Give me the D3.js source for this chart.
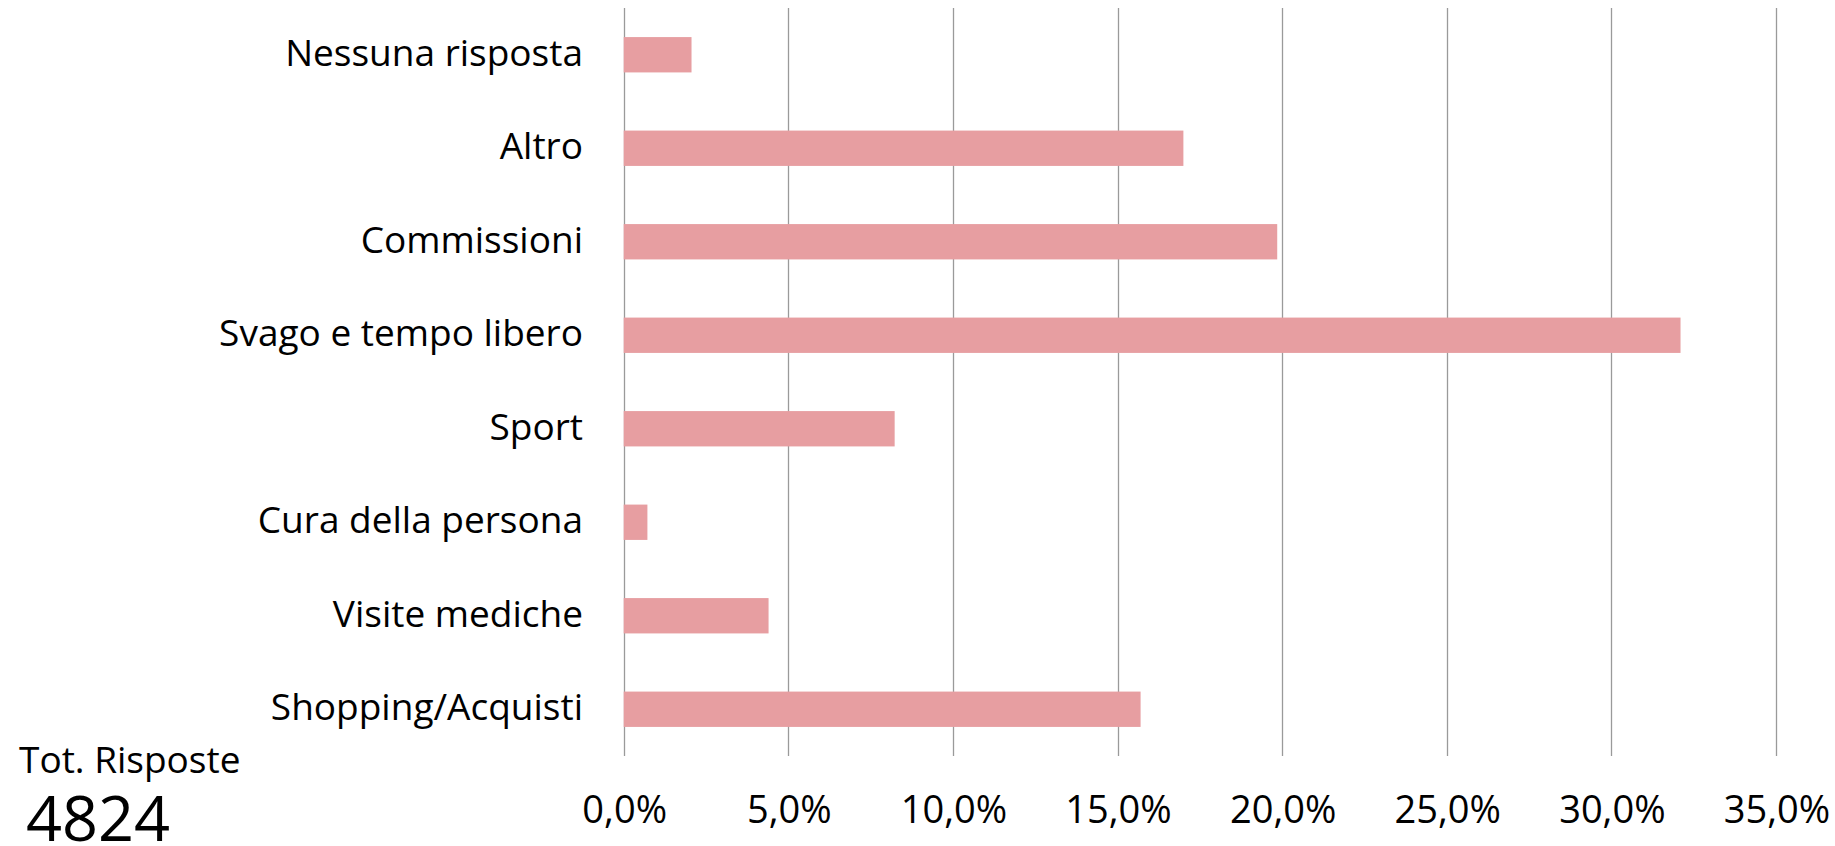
<!DOCTYPE html>
<html lang="it">
<head>
    <meta charset="UTF-8">
    <title>Tot. Risposte</title>
    <script src="https://d3js.org/d3.v7.min.js"></script>
    <style>
        * { margin: 0; padding: 0; box-sizing: border-box; }
        body { background: #fff; font-family: "Open Sans", sans-serif; }
        svg text { fill: #000; }
        .grid line { stroke: #9a9a9a; stroke-width: 1.3px; }
        .bar { fill: #e79ea1; }
    </style>
</head>
<body>
    <svg id="chart"></svg>
    <script>
        // Dati (top to bottom)
        const categories = ['Nessuna risposta', 'Altro', 'Commissioni', 'Svago e tempo libero',
                            'Sport', 'Cura della persona', 'Visite mediche', 'Shopping/Acquisti'];
        const values = [2.06, 17.0, 19.85, 32.1, 8.23, 0.72, 4.40, 15.70];
        const ticks = [0, 5, 10, 15, 20, 25, 30, 35];
        const totalLabel = 'Tot. Risposte';
        const totalValue = '4824';

        const width = 1835, height = 846;
        const margin = { left: 623.7, right: 59, top: 8, bottom: 90 };

        const svg = d3.select('#chart').attr('width', width).attr('height', height);

        const x = d3.scaleLinear().domain([0, 35]).range([margin.left, width - margin.right]);
        const y = d3.scaleBand().domain(categories)
            .range([margin.top, height - margin.bottom])
            .paddingInner(0.622).paddingOuter(0.311);

        // Gridlines
        svg.append('g').attr('class', 'grid')
            .selectAll('line').data(ticks).enter().append('line')
            .attr('x1', d => Math.round(x(d)) + 0.5).attr('x2', d => Math.round(x(d)) + 0.5)
            .attr('y1', margin.top).attr('y2', height - margin.bottom);

        // Bars
        svg.append('g').selectAll('rect').data(values).enter().append('rect')
            .attr('class', 'bar')
            .attr('x', x(0))
            .attr('y', (d, i) => y(categories[i]))
            .attr('width', d => x(d) - x(0))
            .attr('height', y.bandwidth());

        // Category labels
        svg.append('g').selectAll('text').data(categories).enter().append('text')
            .attr('x', 583)
            .attr('y', d => y(d) + y.bandwidth() / 2)
            .attr('dy', '0.3em')
            .attr('text-anchor', 'end')
            .style('font-size', '37px')
            .text(d => d);

        // X tick labels
        const fmt = d => d.toFixed(1).replace('.', ',') + '%';
        svg.append('g').selectAll('text').data(ticks).enter().append('text')
            .attr('x', d => x(d) + 1)
            .attr('y', 823)
            .attr('text-anchor', 'middle')
            .style('font-size', '38px')
            .text(fmt);

        // Totale
        svg.append('text')
            .attr('x', 19).attr('y', 773)
            .style('font-size', '37px')
            .text(totalLabel);
        svg.append('text')
            .attr('x', 98).attr('y', 841)
            .attr('text-anchor', 'middle')
            .style('font-size', '63px')
            .text(totalValue);
    </script>
</body>
</html>
